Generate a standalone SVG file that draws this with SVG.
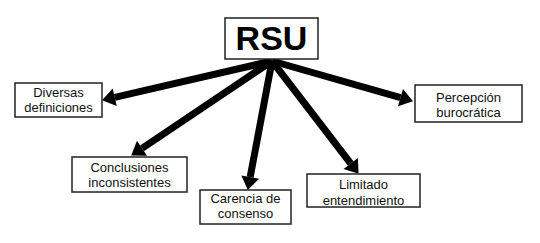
<svg xmlns="http://www.w3.org/2000/svg" width="540" height="243" viewBox="0 0 540 243">
<style>
.box{fill:#fff;stroke:#222;stroke-width:1.5}
.t{font-family:"Liberation Sans",Arial,sans-serif;font-size:13px;fill:#111;text-anchor:middle}
.title{font-family:"Liberation Sans",Arial,sans-serif;font-size:34px;font-weight:bold;fill:#000;text-anchor:middle}
.arr{stroke:#000;stroke-width:7;fill:none;marker-end:url(#ah)}
</style>
<defs>
<marker id="ah" markerUnits="userSpaceOnUse" markerWidth="13" markerHeight="18" refX="0" refY="9" orient="auto" overflow="visible">
<path d="M0,0 L13,9 L0,18 z" fill="#000"/>
</marker>
</defs>
<rect width="540" height="243" fill="#fff"/>
<g id="connectors">
<line class="arr" x1="272" y1="61" x2="114.7" y2="97.3"/>
<line class="arr" x1="272" y1="61" x2="142" y2="148.3"/>
<line class="arr" x1="272" y1="61" x2="250.2" y2="177.2"/>
<line class="arr" x1="272" y1="61" x2="350.7" y2="163.5"/>
<line class="arr" x1="272" y1="61" x2="400.5" y2="97.7"/>
</g>
<g id="rsu">
<rect class="box" x="225" y="18" width="93" height="41"/>
<text class="title" x="271.5" y="50">RSU</text>
</g>
<g id="diversas">
<rect class="box" x="15" y="83" width="87" height="34"/>
<text class="t" x="58.5" y="97">Diversas</text>
<text class="t" x="58.5" y="112">definiciones</text>
</g>
<g id="conclusiones">
<rect class="box" x="72" y="157" width="115" height="35"/>
<text class="t" x="129.5" y="172">Conclusiones</text>
<text class="t" x="129.5" y="187">inconsistentes</text>
</g>
<g id="carencia">
<rect class="box" x="200" y="190" width="91" height="34"/>
<text class="t" x="245.5" y="203">Carencia de</text>
<text class="t" x="245.5" y="218">consenso</text>
</g>
<g id="limitado">
<rect class="box" x="307" y="174" width="113" height="33"/>
<text class="t" x="363.5" y="189">Limitado</text>
<text class="t" x="363.5" y="205">entendimiento</text>
</g>
<g id="percepcion">
<rect class="box" x="415" y="85" width="107" height="37"/>
<text class="t" x="468.5" y="102">Percepción</text>
<text class="t" x="468.5" y="117">burocrática</text>
</g>
</svg>
